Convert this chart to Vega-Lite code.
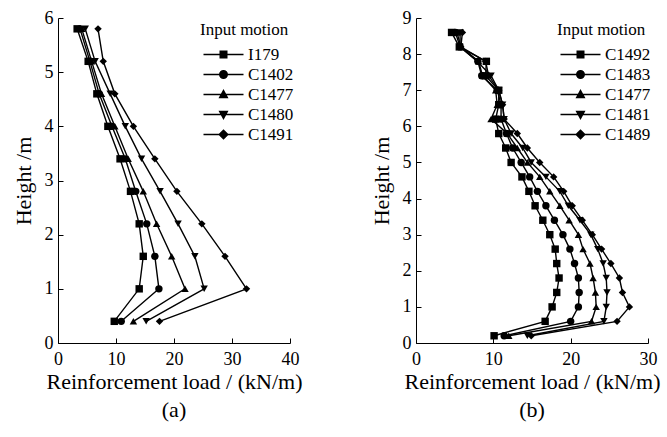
{
  "$schema": "https://vega.github.io/schema/vega-lite/v6.json",
  "padding": {"left": 12, "top": 9, "right": 5, "bottom": 5},
  "spacing": 68,
  "datasets": {
    "a": [
      {"motion": "I179", "h": 0.4, "load": 9.7}, {"motion": "I179", "h": 1.0, "load": 14.0}, {"motion": "I179", "h": 1.6, "load": 14.7}, {"motion": "I179", "h": 2.2, "load": 14.0}, {"motion": "I179", "h": 2.8, "load": 12.5}, {"motion": "I179", "h": 3.4, "load": 10.7}, {"motion": "I179", "h": 4.0, "load": 8.6}, {"motion": "I179", "h": 4.6, "load": 6.7}, {"motion": "I179", "h": 5.2, "load": 5.2}, {"motion": "I179", "h": 5.8, "load": 3.3},
      {"motion": "C1402", "h": 0.4, "load": 10.9}, {"motion": "C1402", "h": 1.0, "load": 17.4}, {"motion": "C1402", "h": 1.6, "load": 16.7}, {"motion": "C1402", "h": 2.2, "load": 15.3}, {"motion": "C1402", "h": 2.8, "load": 13.4}, {"motion": "C1402", "h": 3.4, "load": 11.6}, {"motion": "C1402", "h": 4.0, "load": 9.3}, {"motion": "C1402", "h": 4.6, "load": 7.1}, {"motion": "C1402", "h": 5.2, "load": 5.5}, {"motion": "C1402", "h": 5.8, "load": 3.8},
      {"motion": "C1477", "h": 0.4, "load": 13.0}, {"motion": "C1477", "h": 1.0, "load": 21.9}, {"motion": "C1477", "h": 1.6, "load": 19.6}, {"motion": "C1477", "h": 2.2, "load": 17.0}, {"motion": "C1477", "h": 2.8, "load": 14.7}, {"motion": "C1477", "h": 3.4, "load": 12.1}, {"motion": "C1477", "h": 4.0, "load": 9.8}, {"motion": "C1477", "h": 4.6, "load": 7.5}, {"motion": "C1477", "h": 5.2, "load": 5.8}, {"motion": "C1477", "h": 5.8, "load": 4.1},
      {"motion": "C1480", "h": 0.4, "load": 15.2}, {"motion": "C1480", "h": 1.0, "load": 25.2}, {"motion": "C1480", "h": 1.6, "load": 23.6}, {"motion": "C1480", "h": 2.2, "load": 20.7}, {"motion": "C1480", "h": 2.8, "load": 17.6}, {"motion": "C1480", "h": 3.4, "load": 14.4}, {"motion": "C1480", "h": 4.0, "load": 11.6}, {"motion": "C1480", "h": 4.6, "load": 9.0}, {"motion": "C1480", "h": 5.2, "load": 6.4}, {"motion": "C1480", "h": 5.8, "load": 4.7},
      {"motion": "C1491", "h": 0.4, "load": 17.5}, {"motion": "C1491", "h": 1.0, "load": 32.5}, {"motion": "C1491", "h": 1.6, "load": 28.8}, {"motion": "C1491", "h": 2.2, "load": 24.8}, {"motion": "C1491", "h": 2.8, "load": 20.5}, {"motion": "C1491", "h": 3.4, "load": 16.7}, {"motion": "C1491", "h": 4.0, "load": 13.0}, {"motion": "C1491", "h": 4.6, "load": 9.8}, {"motion": "C1491", "h": 5.2, "load": 7.8}, {"motion": "C1491", "h": 5.8, "load": 6.9}
    ],
    "b": [
      {"motion": "C1492", "h": 0.2, "load": 10.1}, {"motion": "C1492", "h": 0.6, "load": 16.7}, {"motion": "C1492", "h": 1.0, "load": 17.6}, {"motion": "C1492", "h": 1.4, "load": 18.2}, {"motion": "C1492", "h": 1.8, "load": 18.5}, {"motion": "C1492", "h": 2.2, "load": 18.2}, {"motion": "C1492", "h": 2.6, "load": 18.0}, {"motion": "C1492", "h": 3.0, "load": 17.3}, {"motion": "C1492", "h": 3.4, "load": 16.4}, {"motion": "C1492", "h": 3.8, "load": 15.4}, {"motion": "C1492", "h": 4.2, "load": 14.6}, {"motion": "C1492", "h": 4.6, "load": 13.7}, {"motion": "C1492", "h": 5.0, "load": 12.3}, {"motion": "C1492", "h": 5.4, "load": 11.6}, {"motion": "C1492", "h": 5.8, "load": 10.7}, {"motion": "C1492", "h": 6.2, "load": 10.3}, {"motion": "C1492", "h": 6.6, "load": 10.7}, {"motion": "C1492", "h": 7.0, "load": 10.7}, {"motion": "C1492", "h": 7.4, "load": 9.0}, {"motion": "C1492", "h": 7.8, "load": 9.1}, {"motion": "C1492", "h": 8.2, "load": 5.6}, {"motion": "C1492", "h": 8.6, "load": 4.6},
      {"motion": "C1483", "h": 0.2, "load": 11.4}, {"motion": "C1483", "h": 0.6, "load": 20.0}, {"motion": "C1483", "h": 1.0, "load": 21.0}, {"motion": "C1483", "h": 1.4, "load": 21.1}, {"motion": "C1483", "h": 1.8, "load": 21.0}, {"motion": "C1483", "h": 2.2, "load": 20.5}, {"motion": "C1483", "h": 2.6, "load": 19.9}, {"motion": "C1483", "h": 3.0, "load": 19.0}, {"motion": "C1483", "h": 3.4, "load": 17.9}, {"motion": "C1483", "h": 3.8, "load": 16.8}, {"motion": "C1483", "h": 4.2, "load": 15.7}, {"motion": "C1483", "h": 4.6, "load": 14.7}, {"motion": "C1483", "h": 5.0, "load": 13.6}, {"motion": "C1483", "h": 5.4, "load": 12.5}, {"motion": "C1483", "h": 5.8, "load": 11.7}, {"motion": "C1483", "h": 6.2, "load": 11.0}, {"motion": "C1483", "h": 6.6, "load": 11.0}, {"motion": "C1483", "h": 7.0, "load": 10.5}, {"motion": "C1483", "h": 7.4, "load": 8.5}, {"motion": "C1483", "h": 7.8, "load": 8.0}, {"motion": "C1483", "h": 8.2, "load": 5.7}, {"motion": "C1483", "h": 8.6, "load": 5.1},
      {"motion": "C1477", "h": 0.2, "load": 12.0}, {"motion": "C1477", "h": 0.6, "load": 22.7}, {"motion": "C1477", "h": 1.0, "load": 23.3}, {"motion": "C1477", "h": 1.4, "load": 23.2}, {"motion": "C1477", "h": 1.8, "load": 22.9}, {"motion": "C1477", "h": 2.2, "load": 22.5}, {"motion": "C1477", "h": 2.6, "load": 21.6}, {"motion": "C1477", "h": 3.0, "load": 21.0}, {"motion": "C1477", "h": 3.4, "load": 19.8}, {"motion": "C1477", "h": 3.8, "load": 18.6}, {"motion": "C1477", "h": 4.2, "load": 17.3}, {"motion": "C1477", "h": 4.6, "load": 16.0}, {"motion": "C1477", "h": 5.0, "load": 14.4}, {"motion": "C1477", "h": 5.4, "load": 13.1}, {"motion": "C1477", "h": 5.8, "load": 11.8}, {"motion": "C1477", "h": 6.2, "load": 9.7}, {"motion": "C1477", "h": 6.6, "load": 10.5}, {"motion": "C1477", "h": 7.0, "load": 10.3}, {"motion": "C1477", "h": 7.4, "load": 8.6}, {"motion": "C1477", "h": 7.8, "load": 8.1}, {"motion": "C1477", "h": 8.2, "load": 5.8}, {"motion": "C1477", "h": 8.6, "load": 5.3},
      {"motion": "C1481", "h": 0.2, "load": 14.4}, {"motion": "C1481", "h": 0.6, "load": 24.3}, {"motion": "C1481", "h": 1.0, "load": 24.6}, {"motion": "C1481", "h": 1.4, "load": 24.7}, {"motion": "C1481", "h": 1.8, "load": 24.6}, {"motion": "C1481", "h": 2.2, "load": 24.2}, {"motion": "C1481", "h": 2.6, "load": 23.5}, {"motion": "C1481", "h": 3.0, "load": 22.6}, {"motion": "C1481", "h": 3.4, "load": 21.2}, {"motion": "C1481", "h": 3.8, "load": 19.7}, {"motion": "C1481", "h": 4.2, "load": 18.6}, {"motion": "C1481", "h": 4.6, "load": 16.8}, {"motion": "C1481", "h": 5.0, "load": 14.9}, {"motion": "C1481", "h": 5.4, "load": 13.8}, {"motion": "C1481", "h": 5.8, "load": 12.3}, {"motion": "C1481", "h": 6.2, "load": 11.4}, {"motion": "C1481", "h": 6.6, "load": 11.2}, {"motion": "C1481", "h": 7.0, "load": 10.7}, {"motion": "C1481", "h": 7.4, "load": 9.7}, {"motion": "C1481", "h": 7.8, "load": 7.9}, {"motion": "C1481", "h": 8.2, "load": 5.7}, {"motion": "C1481", "h": 8.6, "load": 5.7},
      {"motion": "C1489", "h": 0.2, "load": 14.9}, {"motion": "C1489", "h": 0.6, "load": 26.0}, {"motion": "C1489", "h": 1.0, "load": 27.6}, {"motion": "C1489", "h": 1.4, "load": 26.7}, {"motion": "C1489", "h": 1.8, "load": 26.3}, {"motion": "C1489", "h": 2.2, "load": 25.2}, {"motion": "C1489", "h": 2.6, "load": 24.0}, {"motion": "C1489", "h": 3.0, "load": 22.8}, {"motion": "C1489", "h": 3.4, "load": 21.5}, {"motion": "C1489", "h": 3.8, "load": 20.2}, {"motion": "C1489", "h": 4.2, "load": 19.1}, {"motion": "C1489", "h": 4.6, "load": 17.8}, {"motion": "C1489", "h": 5.0, "load": 16.0}, {"motion": "C1489", "h": 5.4, "load": 14.4}, {"motion": "C1489", "h": 5.8, "load": 13.1}, {"motion": "C1489", "h": 6.2, "load": 11.4}, {"motion": "C1489", "h": 6.6, "load": 11.2}, {"motion": "C1489", "h": 7.0, "load": 10.7}, {"motion": "C1489", "h": 7.4, "load": 9.4}, {"motion": "C1489", "h": 7.8, "load": 9.0}, {"motion": "C1489", "h": 8.2, "load": 5.8}, {"motion": "C1489", "h": 8.6, "load": 6.0}
    ]
  },
  "config": {
    "font": "Times New Roman, Liberation Serif, serif",
    "view": {"stroke": null},
    "axis": {"grid": false, "domainColor": "black", "tickColor": "black", "labelColor": "black", "titleColor": "black", "labelFontSize": 18, "titleFontSize": 22, "titleFontWeight": "normal", "tickSize": -5, "domainWidth": 1, "tickWidth": 1, "labelFlush": false, "labelOverlap": false},
    "axisX": {"labelPadding": 12, "titlePadding": 3},
    "axisY": {"labelPadding": 10, "titlePadding": 9},
    "legend": {"titleFontSize": 17, "titleFontWeight": "normal", "titleColor": "black", "labelFontSize": 17, "labelColor": "black", "rowPadding": 2, "titlePadding": 7, "symbolSize": 100, "symbolStrokeWidth": 1.5, "symbolOpacity": 1, "labelOffset": 31, "padding": 0},
    "title": {"fontSize": 22, "fontWeight": "normal", "color": "black", "offset": 8}
  },
  "hconcat": [
    {
      "width": 232, "height": 325,
      "title": {"text": "(a)", "orient": "bottom"},
      "data": {"name": "a"},
      "encoding": {
        "x": {"field": "load", "type": "quantitative", "scale": {"domain": [0, 40], "nice": false}, "axis": {"values": [0, 10, 20, 30, 40], "title": "Reinforcement load / (kN/m)"}},
        "y": {"field": "h", "type": "quantitative", "scale": {"domain": [0, 6], "nice": false}, "axis": {"values": [0, 1, 2, 3, 4, 5, 6], "title": "Height /m"}}
      },
      "layer": [
        {"mark": {"type": "line", "color": "black", "strokeWidth": 1.4}, "encoding": {"detail": {"field": "motion"}, "order": {"field": "h", "type": "quantitative"}}},
        {"mark": {"type": "point", "filled": true, "color": "black", "opacity": 1, "size": 55}, "encoding": {"shape": {"field": "motion", "type": "nominal", "scale": {"domain": ["I179", "C1402", "C1477", "C1480", "C1491"], "range": ["square", "circle", "triangle-up", "triangle-down", "diamond"]}, "legend": null}}},
        {"mark": {"type": "point", "filled": true, "fill": "black", "stroke": "black", "strokeWidth": 1.5, "opacity": 0, "size": 100}, "encoding": {"shape": {"field": "motion", "type": "nominal", "scale": {"domain": ["I179", "C1402", "C1477", "C1480", "C1491"], "range": ["M-1,0H7M2.35,-0.65H3.65V0.65H2.35Z", "M-1,0H7M2.25,0A0.75,0.75,0,1,0,3.75,0A0.75,0.75,0,1,0,2.25,0Z", "M-1,0H7M3,-0.8L3.75,0.6H2.25Z", "M-1,0H7M3,0.8L3.75,-0.6H2.25Z", "M-1,0H7M3,-0.85L3.85,0L3,0.85L2.15,0Z"]}, "legend": {"title": "Input motion", "orient": "none", "legendX": 142, "legendY": 4, "symbolOpacity": 1}}}}
      ],
      "resolve": {"scale": {"shape": "independent"}, "legend": {"shape": "independent"}}
    },
    {
      "width": 232, "height": 325,
      "title": {"text": "(b)", "orient": "bottom"},
      "data": {"name": "b"},
      "encoding": {
        "x": {"field": "load", "type": "quantitative", "scale": {"domain": [0, 30], "nice": false}, "axis": {"values": [0, 10, 20, 30], "title": "Reinforcement load / (kN/m)"}},
        "y": {"field": "h", "type": "quantitative", "scale": {"domain": [0, 9], "nice": false}, "axis": {"values": [0, 1, 2, 3, 4, 5, 6, 7, 8, 9], "title": "Height /m"}}
      },
      "layer": [
        {"mark": {"type": "line", "color": "black", "strokeWidth": 1.4}, "encoding": {"detail": {"field": "motion"}, "order": {"field": "h", "type": "quantitative"}}},
        {"mark": {"type": "point", "filled": true, "color": "black", "opacity": 1, "size": 55}, "encoding": {"shape": {"field": "motion", "type": "nominal", "scale": {"domain": ["C1492", "C1483", "C1477", "C1481", "C1489"], "range": ["square", "circle", "triangle-up", "triangle-down", "diamond"]}, "legend": null}}},
        {"mark": {"type": "point", "filled": true, "fill": "black", "stroke": "black", "strokeWidth": 1.5, "opacity": 0, "size": 100}, "encoding": {"shape": {"field": "motion", "type": "nominal", "scale": {"domain": ["C1492", "C1483", "C1477", "C1481", "C1489"], "range": ["M-1,0H7M2.35,-0.65H3.65V0.65H2.35Z", "M-1,0H7M2.25,0A0.75,0.75,0,1,0,3.75,0A0.75,0.75,0,1,0,2.25,0Z", "M-1,0H7M3,-0.8L3.75,0.6H2.25Z", "M-1,0H7M3,0.8L3.75,-0.6H2.25Z", "M-1,0H7M3,-0.85L3.85,0L3,0.85L2.15,0Z"]}, "legend": {"title": "Input motion", "orient": "none", "legendX": 141, "legendY": 4, "symbolOpacity": 1}}}}
      ],
      "resolve": {"scale": {"shape": "independent"}, "legend": {"shape": "independent"}}
    }
  ]
}
